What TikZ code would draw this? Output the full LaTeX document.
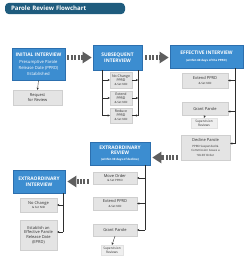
\documentclass[tikz,border=0pt]{standalone}
\usepackage{fontspec}
\setmainfont{Open Sans}
\usetikzlibrary{arrows.meta,shadows}
\definecolor{bluebox}{HTML}{3C8DD0}
\definecolor{blueedge}{HTML}{2C6FAE}
\definecolor{titlebar}{HTML}{1F5C7E}
\definecolor{graybox}{HTML}{E4E4E4}
\definecolor{grayedge}{HTML}{CFCFCF}
\definecolor{bigarrow}{HTML}{5E5E5E}
\definecolor{textgray}{HTML}{2E2E2E}
\tikzset{
  shad/.style={drop shadow={shadow xshift=0.6pt, shadow yshift=-0.6pt, fill=black, opacity=0.18}},
  bluenode/.style={shad, draw=blueedge, fill=bluebox, line width=0.6pt, text=white, inner sep=0pt, align=center, font=\fontsize{4.9}{5.8}\selectfont\bfseries},
  graynode/.style={shad, draw=grayedge, fill=graybox, line width=0.3pt, text=textgray, inner sep=0pt, align=center, font=\fontsize{4}{4.8}\selectfont},
  lightnode/.style={draw=grayedge!60, fill=graybox!60, line width=0.3pt, text=textgray, inner sep=0pt, align=center, font=\fontsize{3.2}{3.7}\selectfont},
  bigarr/.style={draw=bigarrow, line width=4.5pt, dash pattern=on 2pt off 1.4pt, -{Triangle[length=9pt,width=11pt]}},
  thinarr/.style={draw=textgray, line width=0.4pt, -{Stealth[length=2.2pt,width=2.2pt]}},
  thinline/.style={draw=textgray, line width=0.4pt},
}
\newcommand{\mysmall}{\fontsize{2.9}{3.5}\selectfont}
\newcommand{\mybody}{\fontsize{4.2}{5.2}\selectfont\mdseries}
\begin{document}
\begin{tikzpicture}[x=1pt,y=-1pt]
\useasboundingbox (0,0) rectangle (250,260);
% title
\node[fill=titlebar, rounded corners=4pt, minimum width=120pt, minimum height=11pt, inner xsep=6pt, text width=108pt, align=left, text=white, font=\fontsize{6.1}{7}\selectfont\bfseries] (title) at (65,8.5) {Parole Review Flowchart};
% initial
\node[bluenode, minimum width=53pt, minimum height=32pt] (init) at (38.5,64) {INITIAL INTERVIEW\\[1.5pt]\mybody Presumptive Parole\\\mybody Release Date (PPRD)\\\mybody Established};
\node[graynode, minimum width=49pt, minimum height=15pt] (req) at (37.5,97.5) {Request\\for Review};
% subsequent
\node[bluenode, minimum width=49pt, minimum height=25pt] (sub) at (117.5,57.5) {SUBSEQUENT\\INTERVIEW};
\node[graynode, minimum width=22pt, minimum height=16pt, font=\fontsize{3.5}{3.9}\selectfont] (s1) at (121,80) {No Change\\PPRD\\\mysmall \& Set NID};
\node[graynode, minimum width=22pt, minimum height=14pt, font=\fontsize{3.5}{3.9}\selectfont] (s2) at (121,98) {Extend\\PPRD\\\mysmall \& Set NID};
\node[graynode, minimum width=22pt, minimum height=15pt, font=\fontsize{3.5}{3.9}\selectfont] (s3) at (121,115.5) {Reduce\\PPRD\\\mysmall \& Set NID};
% effective
\node[bluenode, minimum width=73pt, minimum height=23pt] (eff) at (206.5,56.5) {EFFECTIVE INTERVIEW\\[1pt]\mysmall (within 60 days of the PPRD)};
\node[graynode, minimum width=46pt, minimum height=15pt] (e1) at (205,80.5) {Extend PPRD\\\mysmall \& Set NID};
\node[graynode, minimum width=46pt, minimum height=13pt] (e2) at (205,108.5) {Grant Parole};
\node[lightnode, minimum width=26pt, minimum height=10pt] (e2s) at (204,123) {Supervision\\Reviews};
\node[graynode, minimum width=49pt, minimum height=25pt] (e3) at (205.5,147.5) {Decline Parole\\[1pt]\mysmall PPRD Suspended \&\\\mysmall Commission Issues a\\\mysmall `90-30' Order};
% extraordinary review
\node[bluenode, minimum width=60pt, minimum height=23pt] (xr) at (120,153.5) {EXTRAORDINARY\\REVIEW\\\mysmall (within 30 days of decline)};
\node[graynode, minimum width=44pt, minimum height=12pt] (x1) at (115,178) {Move Order\\\mysmall \& Set PPRD};
\node[graynode, minimum width=44pt, minimum height=13pt] (x2) at (115,203.5) {Extend PPRD\\\mysmall \& Set NID};
\node[graynode, minimum width=44pt, minimum height=12pt] (x3) at (115,230) {Grant Parole};
\node[lightnode, minimum width=22pt, minimum height=10pt] (x3s) at (112,250) {Supervision\\Reviews};
% extraordinary interview
\node[bluenode, minimum width=52pt, minimum height=23pt] (xi) at (39,181.5) {EXTRAORDINARY\\INTERVIEW};
\node[graynode, minimum width=37pt, minimum height=14pt] (i1) at (38.5,205) {No Change\\\mysmall \& Set NID};
\node[graynode, minimum width=37pt, minimum height=30pt] (i2) at (38.5,235) {Establish an\\Effective Parole\\Release Date\\(EPRD)};
% helper coordinates
\coordinate (e2in) at ([yshift=-3pt]e2.east);
\coordinate (e3in) at ([yshift=4pt]e3.east);
\coordinate (i2in) at ([yshift=3pt]i2.east);
% big dashed arrows
\draw[bigarr] ([xshift=2pt]init.east |- sub.west) -- ([xshift=-1pt]sub.west);
\draw[bigarr] ([xshift=3pt]sub.east) -- ([xshift=-1pt]sub.east -| eff.west);
\coordinate (a3s) at ([xshift=-3pt,yshift=-4pt]e3.west |- xr.east);
\coordinate (a3e) at ([xshift=2pt,yshift=-4pt]xr.east);
\draw[bigarr] (a3s) -- (a3e);
\draw[bigarr] ([xshift=-4pt]x1.west |- xi.east) -- ([xshift=2pt]xi.east);
% thin connectors
\draw[thinarr] (init.south) -- (req.north);
\coordinate (sL) at (102,70);
\coordinate (sR) at (138,70);
\draw[thinline] (sL) -- (sL |- s3.west);
\draw[thinline] (sR) -- (sR |- s3.east);
\foreach \b in {s1,s2,s3}{
  \draw[thinarr] (sL |- \b.west) -- (\b.west);
  \draw[thinarr] (\b.east) -- (sR |- \b.east);
}
\coordinate (eR) at (235,68);
\draw[thinline] (eR) -- (eR |- e3in);
\draw[thinarr] (eR |- e1.east) -- (e1.east);
\draw[thinarr] (eR |- e2in) -- (e2in);
\draw[thinarr] (eR |- e3in) -- (e3in);
\draw[thinarr] (e2.south) -- (e2s.north);
\coordinate (xR) at (145,165);
\draw[thinline] (xR) -- (xR |- x3.east);
\foreach \b in {x1,x2,x3}{
  \draw[thinarr] (xR |- \b.east) -- (\b.east);
}
\draw[thinarr] (x3.south) -- (x3s.north);
\coordinate (iR) at (63,193);
\draw[thinline] (iR) -- (iR |- i2in);
\draw[thinarr] (iR |- i1.east) -- (i1.east);
\draw[thinarr] (iR |- i2in) -- (i2in);
\end{tikzpicture}
\end{document}
